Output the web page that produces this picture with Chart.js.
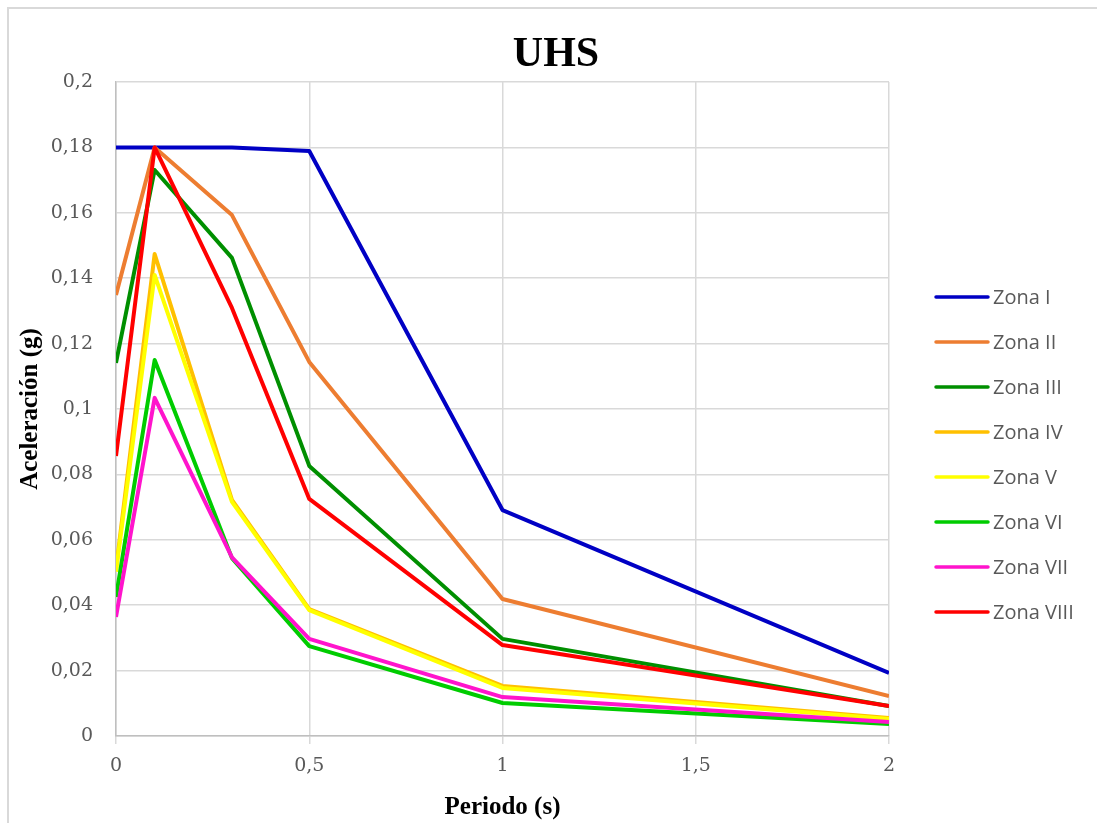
<!DOCTYPE html>
<html>
<head>
<meta charset="utf-8">
<script src="https://cdn.jsdelivr.net/npm/chart.js@4"></script>
<style>
  html, body { margin: 0; padding: 0; background: #fff; overflow: hidden; }
</style>
</head>
<body>
<canvas id="graficoUHS" width="1097" height="823"></canvas>
<script>
// Periodos (s) y aceleraciones (g) por zona
const periodos = [0, 0.1, 0.3, 0.5, 1, 2];
const zonas = ['Zona I', 'Zona II', 'Zona III', 'Zona IV', 'Zona V', 'Zona VI', 'Zona VII', 'Zona VIII'];
const colores = ['#0000c4', '#ed7d31', '#008f00', '#ffc000', '#ffff00', '#00cc00', '#ff14cc', '#ff0000'];

const zonaI    = [0.180, 0.180, 0.180, 0.1789, 0.0691, 0.0193];
const zonaII   = [0.1349, 0.180, 0.1593, 0.1144, 0.0419, 0.0122];
const zonaIII  = [0.1141, 0.1731, 0.1462, 0.0826, 0.0297, 0.0092];
const zonaIV   = [0.0510, 0.1474, 0.0722, 0.0388, 0.0153, 0.0055];
const zonaV    = [0.0502, 0.1410, 0.0716, 0.0385, 0.0147, 0.0052];
const zonaVI   = [0.0425, 0.1150, 0.0544, 0.0275, 0.0101, 0.0037];
const zonaVII  = [0.0364, 0.1034, 0.0546, 0.0297, 0.0119, 0.0043];
const zonaVIII = [0.0856, 0.180, 0.1309, 0.0725, 0.0278, 0.0092];

const series = [zonaI, zonaII, zonaIII, zonaIV, zonaV, zonaVI, zonaVII, zonaVIII];

const ticksY = { min: 0, max: 0.2, paso: 0.02 };
const ticksX = { min: 0, max: 2, paso: 0.5 };

const titulo = 'UHS';

const conComa = (v) => String(Math.round(v * 100) / 100).replace('.', ',');

// Marco gris y título centrado en todo el ancho
const marco = {
    id: 'marco',
    beforeDraw(chart) {
        const ctx = chart.ctx;
        ctx.save();
        ctx.fillStyle = '#ffffff';
        ctx.fillRect(0, 0, chart.width, chart.height);
        ctx.strokeStyle = '#d9d9d9';
        ctx.lineWidth = 2;
        ctx.strokeRect(8, 8, 1300, 1000);
        ctx.fillStyle = '#000000';
        ctx.font = 'bold 42px "Liberation Serif"';
        ctx.textAlign = 'center';
        ctx.textBaseline = 'middle';
        ctx.fillText(titulo, 556, 55);
        ctx.restore();
    }
};

// Leyenda a la derecha, dibujada a mano
const leyenda = {
    id: 'leyenda',
    afterDraw(chart) {
        const ctx = chart.ctx;
        ctx.save();
        ctx.font = '20px "Open Sans"';
        ctx.textBaseline = 'middle';
        ctx.textAlign = 'left';
        zonas.forEach((nombre, i) => {
            const y = 297 + i * 45;
            ctx.strokeStyle = colores[i];
            ctx.lineWidth = 3.5;
            ctx.lineCap = 'round';
            ctx.beginPath();
            ctx.moveTo(936, y);
            ctx.lineTo(988, y);
            ctx.stroke();
            ctx.fillStyle = '#595959';
            ctx.fillText(nombre, 993, y + 1);
        });
        ctx.restore();
    }
};

const ctx = document.getElementById('graficoUHS').getContext('2d');
new Chart(ctx, {
    type: 'line',
    data: {
        datasets: zonas.map((nombre, i) => ({
            label: nombre,
            data: periodos.map((p, j) => ({ x: p, y: series[i][j] })),
            borderColor: colores[i],
            backgroundColor: colores[i],
            borderWidth: 4,
            borderJoinStyle: 'round',
            pointRadius: 0,
            tension: 0,
            order: zonas.length - i
        }))
    },
    options: {
        responsive: false,
        animation: false,
        layout: { padding: { left: 16, right: 208, top: 82, bottom: 0 } },
        plugins: {
            legend: { display: false },
            tooltip: { enabled: false },
            title: { display: false }
        },
        scales: {
            x: {
                type: 'linear',
                min: ticksX.min, max: ticksX.max,
                afterFit: (s) => { s.height = 87; },
                ticks: {
                    stepSize: ticksX.paso,
                    color: '#595959',
                    font: { family: '"DejaVu Serif"', size: 19 },
                    padding: 11,
                    maxRotation: 0,
                    callback: (v) => conComa(v)
                },
                grid: { color: '#d9d9d9', lineWidth: 1.5, tickLength: 8, tickColor: '#d9d9d9' },
                border: { color: '#bfbfbf', width: 1.5 },
                title: {
                    display: true,
                    text: 'Periodo (s)',
                    color: '#000000',
                    font: { family: '"Liberation Serif"', size: 25, weight: 'bold', lineHeight: 1.2 },
                    padding: { top: 7, bottom: 0 }
                }
            },
            y: {
                type: 'linear',
                min: ticksY.min, max: ticksY.max,
                afterFit: (s) => { s.width = 100; },
                ticks: {
                    stepSize: ticksY.paso,
                    color: '#595959',
                    font: { family: '"DejaVu Serif"', size: 19 },
                    padding: 23,
                    callback: (v) => conComa(v)
                },
                grid: { color: '#d9d9d9', lineWidth: 1.5, drawTicks: false },
                border: { color: '#bfbfbf', width: 1.5 },
                title: {
                    display: true,
                    text: 'Aceleración (g)',
                    color: '#000000',
                    font: { family: '"Liberation Serif"', size: 25, weight: 'bold', lineHeight: 1.2 },
                    padding: { top: 0, bottom: 0 }
                }
            }
        }
    },
    plugins: [marco, leyenda]
});
</script>
</body>
</html>
